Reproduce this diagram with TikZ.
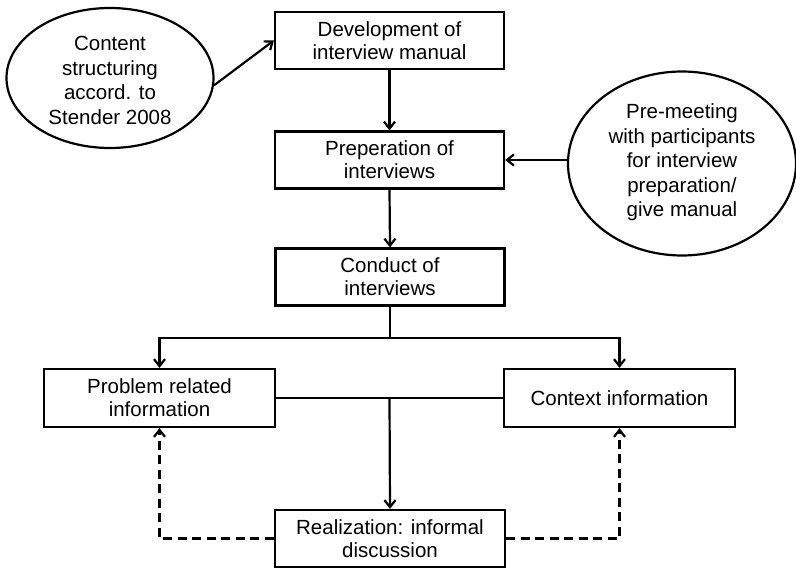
\documentclass[tikz,border=0pt]{standalone}
\usepackage{fontspec}
\setmainfont{Liberation Sans}
\usetikzlibrary{arrows.meta,shapes.geometric}

\tikzset{
  base/.style={draw=black, line width=2.2pt, fill=white, align=center,
    font=\fontsize{20.5}{23}\selectfont, inner sep=0pt},
  stepbox/.style={base, rectangle, minimum width=229pt, minimum height=57pt},
  bubble/.style={base, ellipse},
  bubbletext/.style={align=center, inner sep=0pt, font=\fontsize{20.5}{24.5}\selectfont},
  link/.style={line width=2.2pt, -{Straight Barb[length=7pt,width=11pt,line width=2.2pt]}},
  plainlink/.style={line width=2.2pt},
  dashlink/.style={link, dash pattern=on 9pt off 5.5pt}
}

\begin{document}
\begin{tikzpicture}[x=1pt,y=-1pt]
  \useasboundingbox (0,0) rectangle (796,569);

  % main column
  \node[stepbox] (dev)  at (389.5,40.5)  {Development of\\interview manual};
  \node[stepbox] (prep) at (389.5,160)   {Preperation of\\interviews};
  \node[stepbox] (cond) at (390,277)     {Conduct of\\interviews};

  % two kinds of information
  \node[stepbox, minimum width=231pt, minimum height=58pt] (prob) at (159.5,398) {Problem related\\information};
  \node[stepbox, minimum width=231pt, minimum height=58pt] (ctx)  at (619.5,398) {Context information};
  \node[stepbox, minimum width=230pt, minimum height=57pt] (real) at (390,538.5) {Realization: informal\\discussion};

  % side inputs: outline first, text placed on top
  \node[bubble, minimum width=207pt, minimum height=140pt] (cs) at (110,78) {};
  \node[bubbletext] (cstext) at (110,80.5)
    {Content\\structuring\\accord. to\\Stender 2008};
  \node[bubble, minimum width=228pt, minimum height=184pt] (pm) at (682,163.5) {};
  \node[bubbletext] (pmtext) at (682,162.5)
    {Pre-meeting\\with participants\\for interview\\preparation/\\give manual};

  % junction points
  \coordinate (br)  at (390,338);
  \coordinate (mid) at (389.5,398);

  % connectors
  \draw[link] (cs.-4) -- (dev.west);
  \draw[link] (pm.west |- prep.east) -- (prep.east);
  \draw[link] (dev.south) -- (prep.north);
  \draw[link] (prep.south) -- (cond.north);
  \draw[plainlink] (cond.south) -- (br);
  \draw[link] (br) -| (prob.north);
  \draw[link] (br) -| (ctx.north);
  \draw[plainlink] (prob.east) -- (ctx.west);
  \draw[link] (mid) -- (real.north);
  \draw[dashlink] (real.west) -| (prob.south);
  \draw[dashlink] (real.east) -| (ctx.south);
\end{tikzpicture}
\end{document}
